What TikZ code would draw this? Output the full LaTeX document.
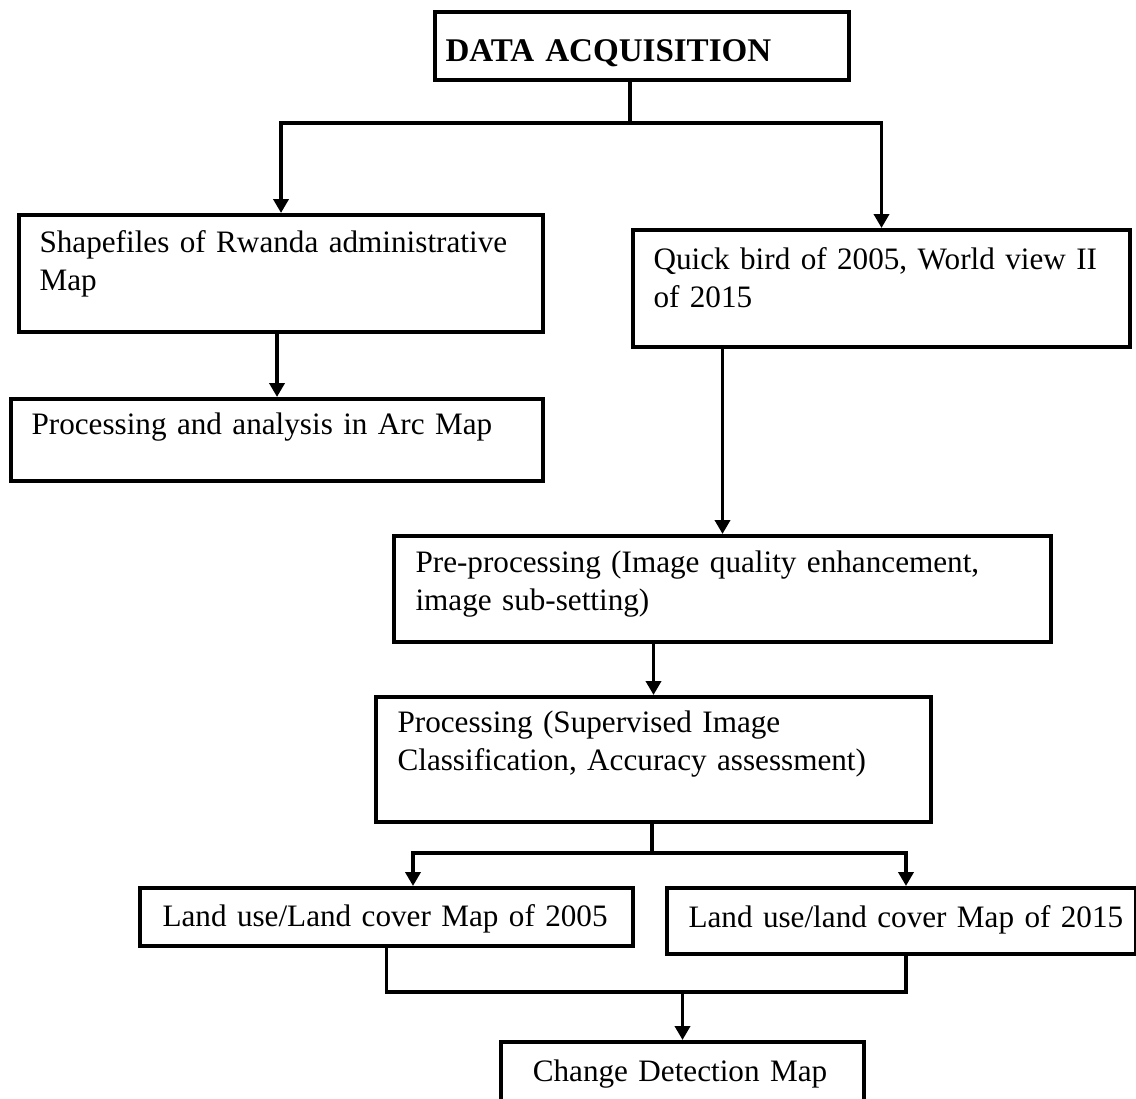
\documentclass[tikz,border=0pt]{standalone}
\usepackage{fontspec}
\setmainfont{Liberation Serif}
\usetikzlibrary{arrows.meta}
\newlength{\px}
\setlength{\px}{0.372pt}

\begin{document}
\begin{tikzpicture}[x=\px,y=-\px,
    blk/.style={draw,line width=1.5pt,anchor=north west,inner sep=0pt},
    txt/.style={anchor=base west,inner sep=0pt,align=left,text width=640*\px,
      font=\fontsize{11.6pt}{13.8pt}\selectfont},
    link/.style={line width=1.4pt},
    stream/.style={link,-{Triangle[length=5.2pt,width=5.6pt]}}]
    \useasboundingbox (0,0) rectangle (1136,1099);

    % boxes
    \node [blk,minimum width=414*\px,minimum height=68*\px] (data) at (433,10) {};
    \node [blk,minimum width=524*\px,minimum height=117*\px] (shp) at (17,213) {};
    \node [blk,minimum width=497*\px,minimum height=117*\px] (qb) at (631,228) {};
    \node [blk,minimum width=532*\px,minimum height=82*\px] (arc) at (9,397) {};
    \node [blk,minimum width=657*\px,minimum height=106*\px] (pre) at (392,534) {};
    \node [blk,minimum width=555*\px,minimum height=125*\px] (proc) at (374,695) {};
    \node [blk,minimum width=493*\px,minimum height=58*\px] (lc05) at (138,886) {};
    \node [blk,minimum width=469*\px,minimum height=66*\px] (lc15) at (665,886) {};
    \node [blk,minimum width=363*\px,minimum height=70*\px] (chg) at (499,1040) {};

    % texts
    \node [txt,font=\fontsize{12.3pt}{13.8pt}\selectfont\bfseries] (datatxt) at (445,62) {DATA ACQUISITION};
    \node [txt] (shptxt) at (39,253) {Shapefiles of Rwanda administrative\\Map};
    \node [txt] (qbtxt) at (653,270) {Quick bird of 2005, World view II\\of 2015};
    \node [txt] (arctxt) at (31,435) {Processing and analysis in Arc Map};
    \node [txt] (pretxt) at (415,573) {Pre-processing (Image quality enhancement,\\image sub-setting)};
    \node [txt] (proctxt) at (397,733) {Processing (Supervised Image\\Classification, Accuracy assessment)};
    \node [txt] (lc05txt) at (162,927) {Land use/Land cover Map of 2005};
    \node [txt] (lc15txt) at (688,928) {Land use/land cover Map of 2015};
    \node [txt,anchor=base,align=center] (chgtxt) at (680,1082) {Change Detection Map};

    % connectors
    \coordinate (dsplit) at (630,123);
    \draw [link] (data.south -| dsplit) -- (dsplit);
    \draw [stream] (dsplit) -| (shp.north);
    \draw [stream] (dsplit) -| (qb.north);
    \draw [stream] (shp.south -| arc.north) -- (arc.north);
    \draw [stream] (qb.south -| pre.north) -- (pre.north);
    \draw [stream] (pre.south -| proc.north) -- (proc.north);

    \coordinate (psplit) at (652,853);
    \coordinate (to05) at (413,853);
    \coordinate (to15) at (906,853);
    \draw [link] (proc.south -| psplit) -- (psplit);
    \draw [stream] (psplit) -- (to05) -- (to05 |- lc05.north);
    \draw [stream] (psplit) -- (to15) -- (to15 |- lc15.north);

    \coordinate (jn) at (906,992);
    \draw [link] (lc05.south) |- (jn) -- (jn |- lc15.south);
    \draw [stream] (chg.north |- jn) -- (chg.north);
\end{tikzpicture}
\end{document}
